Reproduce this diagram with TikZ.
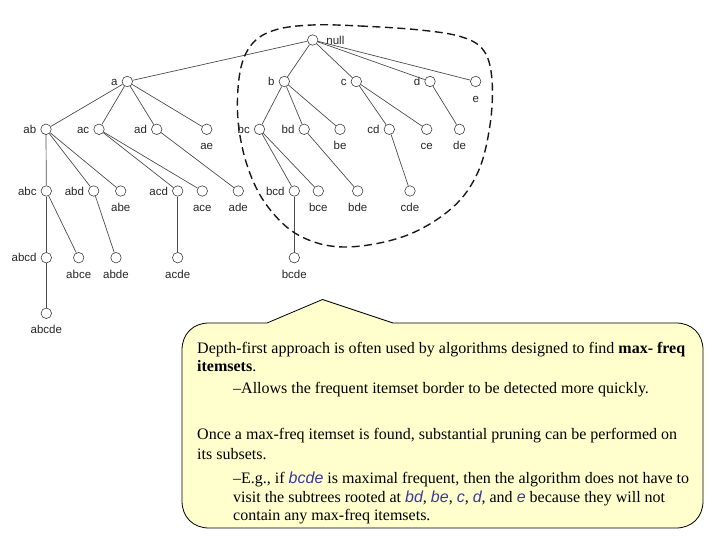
\documentclass[tikz,border=0pt]{standalone}
\usepackage{fontspec}
\setmainfont{Liberation Serif}
\setsansfont{Liberation Sans}
\definecolor{noteyellow}{RGB}{255,255,206}
\definecolor{hlblue}{RGB}{58,58,150}
\newcommand\hw[1]{{\sffamily\itshape\color{hlblue}#1}}
\begin{document}
\begin{tikzpicture}[x=1pt,y=-1pt,
  vtx/.style={circle,draw=black!75,fill=white,line width=0.6pt,minimum size=10.5pt,inner sep=0pt},
  lbl/.style={font=\sffamily\fontsize{11.5}{12}\selectfont,text=black!85,inner sep=1pt,text height=8.3pt,text depth=0pt},
  lw/.style={label={[lbl,label distance=3pt]left:#1}},
  lb/.style={label={[lbl,label distance=5.5pt]below:#1}},
  lr/.style={label={[lbl,label distance=7pt]right:#1}},
  edge/.style={draw=black!70,line width=0.7pt},
  zone/.style={draw=black!90,line width=1.4pt,dash pattern=on 8pt off 4.5pt},
  callout/.style={draw=black,line width=0.8pt,fill=noteyellow},
  txt/.style={anchor=base west,inner sep=0pt,font=\fontsize{16}{19}\selectfont}]
\useasboundingbox (0,0) rectangle (720,540);
% lattice nodes
\node[vtx,lr=null] (null) at (312.7,40) {};
\node[vtx,lw=a] (a) at (127.3,81.5) {};
\node[vtx,lw=b] (b) at (284.3,81.5) {};
\node[vtx,lw=c] (c) at (356.3,81.5) {};
\node[vtx,lw=d] (d) at (430,81.5) {};
\node[vtx,lb=e] (e) at (475.7,81.5) {};
\node[vtx,lw=ab] (ab) at (46,129.3) {};
\node[vtx,lw=ac] (ac) at (99,129.3) {};
\node[vtx,lw=ad] (ad) at (156.7,129.3) {};
\node[vtx,lb=ae] (ae) at (206.7,129.3) {};
\node[vtx,lw=bc] (bc) at (259.5,129.3) {};
\node[vtx,lw=bd] (bd) at (304.2,129.3) {};
\node[vtx,lb=be] (be) at (340,129.3) {};
\node[vtx,lw=cd] (cd) at (389.3,129.3) {};
\node[vtx,lb=ce] (ce) at (426.7,129.3) {};
\node[vtx,lb=de] (de) at (459.5,129.3) {};
\node[vtx,lw=abc] (abc) at (46.3,191) {};
\node[vtx,lw=abd] (abd) at (93.7,191) {};
\node[vtx,lb=abe] (abe) at (120.7,191) {};
\node[vtx,lw=acd] (acd) at (177.7,191) {};
\node[vtx,lb=ace] (ace) at (202.3,191) {};
\node[vtx,lb=ade] (ade) at (238.3,191) {};
\node[vtx,lw=bcd] (bcd) at (294.3,191) {};
\node[vtx,lb=bce] (bce) at (318.3,191) {};
\node[vtx,lb=bde] (bde) at (357.7,191) {};
\node[vtx,lb=cde] (cde) at (410,191) {};
\node[vtx,lw=abcd] (abcd) at (46.3,257.7) {};
\node[vtx,lb=abce] (abce) at (78.7,257.7) {};
\node[vtx,lb=abde] (abde) at (116,257.7) {};
\node[vtx,lb=acde] (acde) at (177.7,257.7) {};
\node[vtx,lb=bcde] (bcde) at (294.3,257.7) {};
\node[vtx,lb=abcde] (abcde) at (46.3,313.3) {};
% edges
\foreach \p/\q in {null/a,null/b,null/c,null/d,null/e,
  a/ab,a/ac,a/ad,a/ae,b/bc,b/bd,b/be,c/cd,c/ce,d/de,
  ab/abc,ab/abd,ab/abe,ac/acd,ac/ace,ad/ade,bc/bcd,bc/bce,bd/bde,cd/cde,
  abc/abcd,abc/abce,abd/abde,acd/acde,bcd/bcde,abcd/abcde}
  \draw[edge] (\p) -- (\q);
% dashed region
\draw[zone] plot[smooth cycle,tension=0.6] coordinates {(312,25) (360,26) (420,30) (462,37) (484,51) (492,80) (490,125) (478,172) (452,208) (405,236) (345,247) (300,236) (268,207) (248,168) (238,120) (240,72) (252,44) (275,30)};
% callout
\path[callout] (182,350) .. controls (182,334) and (193,323) .. (209,323)
  -- (267,323) -- (322.5,299.5) -- (393,323) -- (676,323)
  .. controls (692,323) and (703,334) .. (703,350)
  -- (703,501) .. controls (703,517) and (692,528) .. (676,528)
  -- (209,528) .. controls (193,528) and (182,517) .. (182,501) -- cycle;
\node[txt] (t1) at (197,353.5) {Depth-first approach is often used by algorithms designed to find \textbf{max- freq}};
\node[txt] (t2) at (197,371.5) {\textbf{itemsets}.};
\node[txt] (t3) at (233,393.5) {–Allows the frequent itemset border to be detected more quickly.};
\node[txt] (t4) at (197,439.5) {Once a max-freq itemset is found, substantial pruning can be performed on};
\node[txt] (t5) at (197,459.5) {its subsets.};
\node[txt] (t6) at (233,483.5) {–E.g., if \hw{bcde} is maximal frequent, then the algorithm does not have to};
\node[txt] (t7) at (233,502) {visit the subtrees rooted at \hw{bd}, \hw{be}, \hw{c}, \hw{d}, and \hw{e} because they will not};
\node[txt] (t8) at (233,520.5) {contain any max-freq itemsets.};
\end{tikzpicture}
\end{document}
